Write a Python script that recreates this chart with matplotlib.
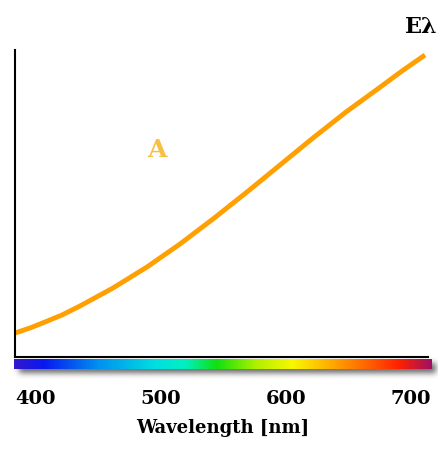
import numpy as np
import matplotlib
matplotlib.use("Agg")
import matplotlib.pyplot as plt
from matplotlib.colors import LinearSegmentedColormap

# data
wavelength = [383.2, 395.2, 407.2, 420.8, 435.2, 461.6, 488.8, 515.2, 541.6, 568.8,
              595.2, 621.6, 648.0, 674.4, 692.8, 711.2]
power = [24, 29, 35, 42, 51, 69, 90, 113, 138, 165,
         192, 219, 245, 269, 286, 302]
tick_values = [400, 500, 600, 700]
xlabel = "Wavelength [nm]"
ylabel_text = "E\u03bb"
series_label = "A"

W, H = 439, 450
fig = plt.figure(figsize=(W / 100, H / 100), dpi=100)

def px2wl(x):
    return 400 + (x - 36) / 125.0 * 100

def rect(x0, y0, x1, y1):
    return [x0 / W, 1 - y1 / H, (x1 - x0) / W, (y1 - y0) / H]

serif = ["DejaVu Serif"]

# main axes
ax = fig.add_axes(rect(15, 50, 432, 357))
ax.set_xlim(px2wl(15), px2wl(432))
ax.set_ylim(0, 307)
ax.plot(wavelength, power, color="#ffa000", lw=3.5, solid_capstyle="butt",
        solid_joinstyle="round")
for s in ["top", "right"]:
    ax.spines[s].set_visible(False)
ax.spines["left"].set_linewidth(1.5)
ax.spines["bottom"].set_linewidth(1.5)
ax.spines["bottom"].set_bounds(px2wl(15), px2wl(428))
ax.set_xticks([])
ax.set_yticks([])
ax.text(497, 207, series_label, color="#f6c142", fontsize=18, fontweight="bold",
        family=serif, ha="center", va="center")
fig.text(421 / W, 1 - 27 / H, ylabel_text, fontsize=16, fontweight="bold",
         family=serif, ha="center", va="center")

# soft shadow of the colour bar
sx0, sy0, sx1, sy1 = 0, 345, 439, 395
sh = fig.add_axes(rect(sx0, sy0, sx1, sy1), zorder=0)
hh, ww = sy1 - sy0, sx1 - sx0
mask = np.zeros((hh, ww))
mask[(363 - sy0):(373 - sy0), (19 - sx0):(436 - sx0)] = 1.0
sig = 3.0
k = np.exp(-0.5 * (np.arange(-10, 11) / sig) ** 2)
k /= k.sum()
mask = np.apply_along_axis(lambda r: np.convolve(r, k, mode="same"), 1, mask)
mask = np.apply_along_axis(lambda c: np.convolve(c, k, mode="same"), 0, mask)
rgba = np.zeros((hh, ww, 4))
rgba[..., 3] = mask * 0.6
sh.imshow(rgba, extent=[0, 1, 0, 1], aspect="auto", interpolation="bilinear")
sh.axis("off")

# colour bar
cax = fig.add_axes(rect(14, 359, 432, 369), zorder=2)
stops = [(0.0, "#3318cc"), (0.07, "#0818f0"), (0.2, "#0090f0"), (0.34, "#00e0e0"),
         (0.41, "#00f0c0"), (0.485, "#10e010"), (0.58, "#b0f000"), (0.667, "#f8f800"),
         (0.763, "#ffa800"), (0.85, "#ff6000"), (0.923, "#ff2000"), (1.0, "#a01060")]
cmap = LinearSegmentedColormap.from_list("spec", stops)
grad = np.linspace(0, 1, 512)[None, :]
cax.imshow(grad, aspect="auto", cmap=cmap, extent=[px2wl(14), px2wl(432), 0, 1])
cax.set_xlim(px2wl(14), px2wl(432))
for s in cax.spines.values():
    s.set_visible(False)
cax.set_yticks([])
cax.set_xticks(tick_values)
cax.set_xticklabels([str(v) for v in tick_values], fontsize=14, fontweight="bold", family=serif)
cax.tick_params(axis="x", length=0, pad=15)
cax.set_xlabel(xlabel, fontsize=13, fontweight="bold", family=serif, labelpad=8)

fig.savefig("out.png", dpi=100)
